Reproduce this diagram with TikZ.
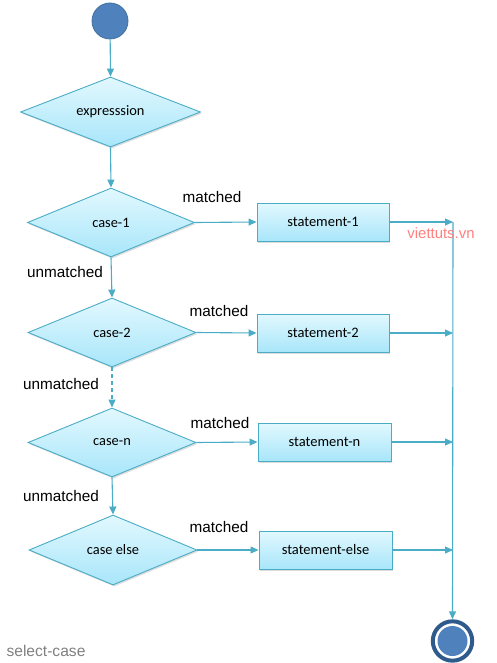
\documentclass[tikz,border=0pt]{standalone}
\usepackage{fontspec}
\setmainfont{Liberation Sans}
\newfontfamily\calfont{Carlito}
\usetikzlibrary{shapes.geometric,arrows.meta,shadows}
\definecolor{lineblue}{HTML}{4BACC6}
\definecolor{filltop}{HTML}{E2F8FE}
\definecolor{fillbot}{HTML}{A8E6FA}
\definecolor{dotblue}{HTML}{4F81BD}
\definecolor{dotedge}{HTML}{41719C}
\definecolor{ringblue}{HTML}{2F5A8C}
\definecolor{wmred}{HTML}{FF7F7F}
\definecolor{capgray}{HTML}{808080}
\begin{document}
\begin{tikzpicture}[x=1pt,y=-1pt,
  conn/.style={draw=lineblue, line width=1.1pt, -{Triangle[length=8pt,width=7pt]}},
  shade/.style={top color=filltop, bottom color=fillbot,
    drop shadow={opacity=0.28, shadow xshift=1.2pt, shadow yshift=-1.6pt}},
  dia/.style={diamond, draw=lineblue, line width=0.9pt, shade, inner sep=0pt, aspect=2.4,
    font=\calfont\fontsize{14.4}{16}\selectfont},
  stbox/.style={rectangle, draw=lineblue, line width=0.9pt, shade, inner sep=0pt,
    minimum width=132pt, minimum height=38pt, font=\calfont\fontsize{14.5}{16}\selectfont},
  lbl/.style={inner sep=0pt, font=\fontsize{15.3}{18}\selectfont},
]
\useasboundingbox (0,0) rectangle (497,663);

% start / end
\node[circle, fill=dotblue, draw=dotedge, line width=0.8pt, minimum size=36pt, inner sep=0pt] (start) at (110,21) {};
\node[circle, draw=ringblue, line width=4pt, minimum size=39.4pt, inner sep=0pt] (stop) at (452.5,641) {};
\fill[dotblue] (stop.center) circle (15);

% decisions
\node[dia, minimum width=180pt, minimum height=70pt] (expr) at (110.5,112) {expresssion};
\node[dia, minimum width=167pt, minimum height=69pt] (c1) at (111,222.5) {case-1};
\node[dia, minimum width=168pt, minimum height=69pt] (c2) at (112,332.5) {case-2};
\node[dia, minimum width=168pt, minimum height=69pt] (cn) at (112,442.5) {case-n};
\node[dia, minimum width=168pt, minimum height=70pt] (ce) at (113,550) {case else};

% statements
\node[stbox] (s1) at (323,222) {statement-1};
\node[stbox] (s2) at (323,333) {statement-2};
\node[stbox, minimum width=133pt] (sn) at (324.5,442) {statement-n};
\node[stbox, minimum width=133pt] (se) at (325.5,550) {statement-else};

% junctions on the right line
\coordinate (j1) at (453,222);
\coordinate (j2) at (453,333);
\coordinate (jn) at (453,442);
\coordinate (je) at (453,550);

% connectors
\draw[conn] (start) -- (expr.north);
\draw[conn] (expr.south) -- (c1.north);
\draw[conn] (c1.south) -- (c2.north);
\draw[conn, dash pattern=on 4pt off 3pt] (c2.south) -- (cn.north);
\draw[conn] (cn.south) -- (ce.north);

\draw[conn] (c1.east) -- (s1.west);
\draw[conn] (c2.east) -- (s2.west);
\draw[conn] (cn.east) -- (sn.west);
\draw[conn] (ce.east) -- (se.west);

\draw[conn] (s1.east) -- (j1);
\draw[conn] (s2.east) -- (j2);
\draw[conn] (sn.east) -- (jn);
\draw[conn] (se.east) -- (je);

\draw[conn] (j1) -- (stop.north);

% labels
\node[lbl] (m1) at (212,197.5) {matched};
\node[lbl] (m2) at (219,311) {matched};
\node[lbl] (m3) at (220,423) {matched};
\node[lbl] (m4) at (219,527) {matched};
\node[lbl] (u1) at (65,272.5) {unmatched};
\node[lbl] (u2) at (61,384) {unmatched};
\node[lbl] (u3) at (61,496) {unmatched};

\node[inner sep=0pt, text=wmred, font=\fontsize{14.9}{17}\selectfont] (wm) at (441,233) {viettuts.vn};
\node[inner sep=0pt, text=capgray, font=\fontsize{15.6}{18}\selectfont] (cap) at (46,650.5) {select-case};
\end{tikzpicture}
\end{document}
